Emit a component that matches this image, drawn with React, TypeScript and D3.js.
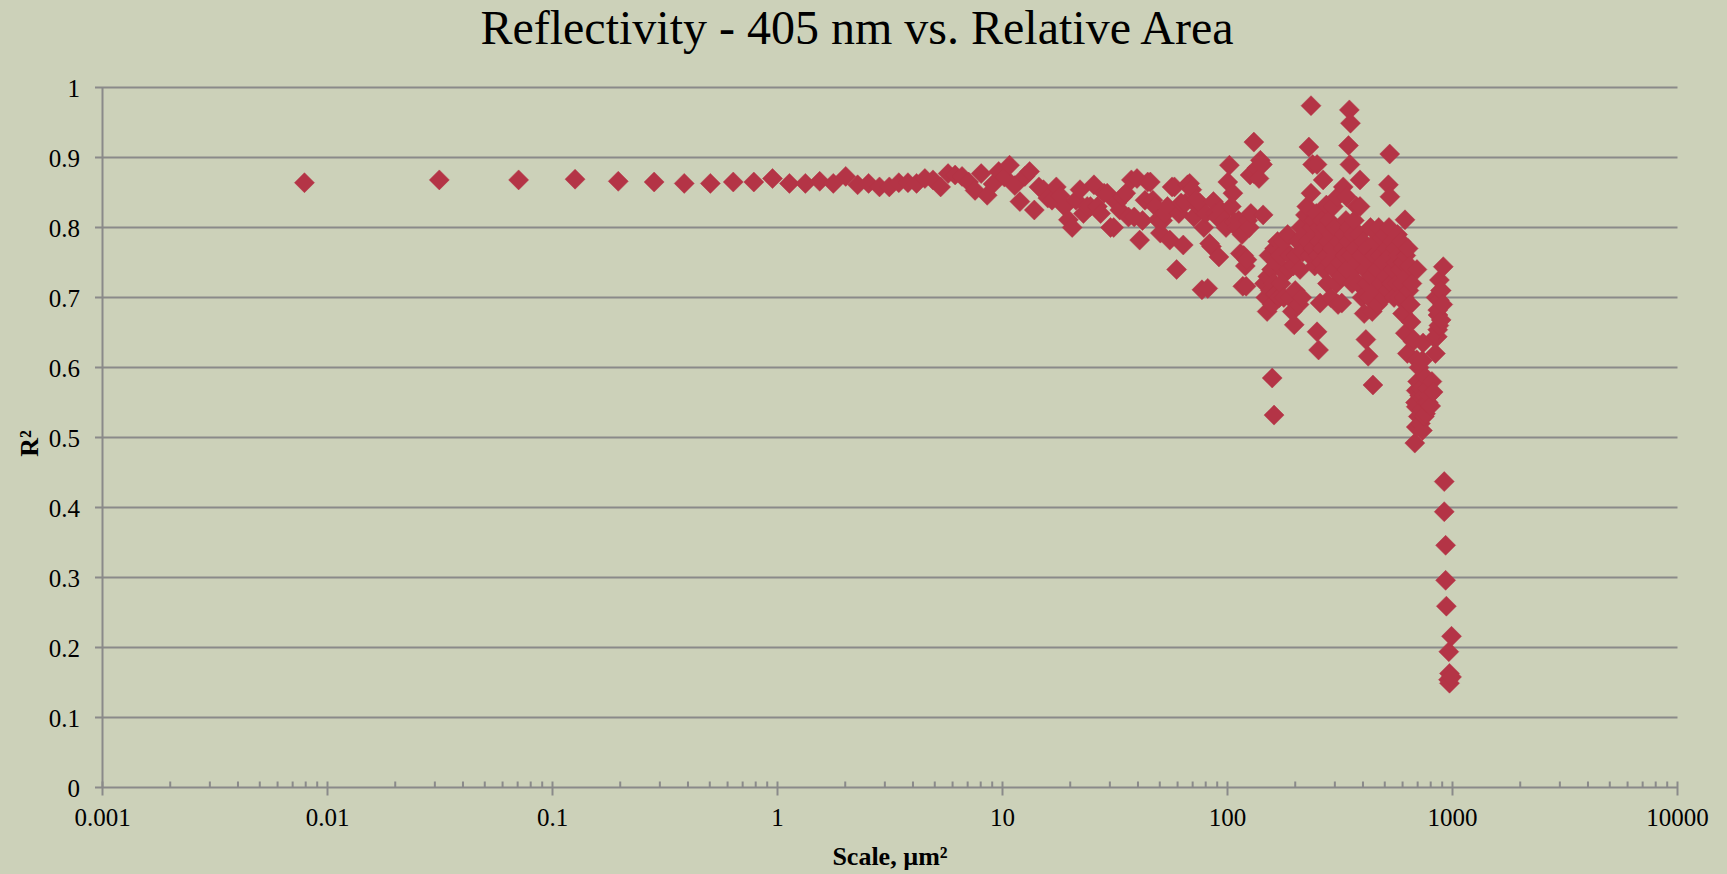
import React from "react";
import * as d3 from "d3";

// Axis ticks
const X_TICKS = [0.001, 0.01, 0.1, 1, 10, 100, 1000, 10000];
const X_TICK_LABELS = ["0.001", "0.01", "0.1", "1", "10", "100", "1000", "10000"];
const Y_TICKS = [0, 0.1, 0.2, 0.3, 0.4, 0.5, 0.6, 0.7, 0.8, 0.9, 1];
const Y_TICK_LABELS = ["0", "0.1", "0.2", "0.3", "0.4", "0.5", "0.6", "0.7", "0.8", "0.9", "1"];

// [scale µm², R²] — sub-10 µm² features
const smallScale: [number, number][] = [
  [0.0079, 0.864], [0.0314, 0.868], [0.0707, 0.868], [0.126, 0.869], [0.196, 0.866],
  [0.283, 0.865], [0.385, 0.863], [0.503, 0.863], [0.636, 0.865], [0.785, 0.865],
  [0.95, 0.87], [1.13, 0.863], [1.33, 0.863], [1.54, 0.866], [1.77, 0.863],
  [2.01, 0.873], [2.27, 0.861], [2.54, 0.863], [2.84, 0.858], [3.14, 0.858],
  [3.46, 0.864], [3.8, 0.864], [4.15, 0.863], [4.52, 0.87], [4.91, 0.868],
  [5.31, 0.858], [5.73, 0.877], [6.16, 0.875], [6.61, 0.873], [7.07, 0.865],
  [7.55, 0.853], [8.04, 0.877], [8.55, 0.846], [9.08, 0.862], [9.62, 0.88],
];

// 10–100 µm²
const midScale: [number, number][] = [
  [10.2, 0.872], [10.75, 0.889], [11.34, 0.86], [11.95, 0.837], [12.57, 0.873],
  [13.2, 0.88], [13.85, 0.825], [14.52, 0.858], [15.2, 0.854], [15.9, 0.842],
  [16.6, 0.839], [17.35, 0.858], [18.1, 0.845], [18.86, 0.83], [19.63, 0.811],
  [20.4, 0.8], [21.2, 0.839], [22.1, 0.854], [22.9, 0.82], [23.8, 0.83],
  [24.6, 0.83], [25.5, 0.861], [26.4, 0.83], [27.3, 0.82], [28.3, 0.849],
  [29.2, 0.849], [30.2, 0.8], [31.2, 0.8], [32.2, 0.835], [33.2, 0.825],
  [34.2, 0.844], [35.3, 0.849], [36.3, 0.815], [37.4, 0.868], [38.5, 0.815],
  [39.6, 0.87], [40.7, 0.782], [41.9, 0.81], [43, 0.839], [44.2, 0.865],
  [45.4, 0.865], [46.6, 0.839], [47.8, 0.83], [49, 0.811], [50.3, 0.792],
  [51.5, 0.81], [52.8, 0.82], [54.1, 0.83], [55.4, 0.782], [56.7, 0.858],
  [58.1, 0.858], [59.4, 0.74], [60.8, 0.82], [62.2, 0.835], [63.6, 0.775],
  [65, 0.835], [66.5, 0.861], [67.9, 0.863], [69.4, 0.854], [70.9, 0.815],
  [72.4, 0.84], [73.9, 0.83], [75.4, 0.835], [77, 0.711], [78.5, 0.8],
  [80.1, 0.82], [81.7, 0.713], [83.3, 0.777], [84.9, 0.773], [86.6, 0.837],
  [88.2, 0.82], [89.9, 0.815], [91.6, 0.758], [93.3, 0.825], [95, 0.82],
  [96.8, 0.81], [98.5, 0.8],
];

// 100–1000 µm²
const largeScale: [number, number][] = [
  [100.3, 0.865], [102, 0.889], [104, 0.83], [105.7, 0.849], [107.5, 0.808],
  [109.4, 0.8], [112, 0.81], [113, 0.8], [114, 0.763], [116, 0.79],
  [117, 0.716], [118, 0.76], [120, 0.745], [121, 0.716], [122, 0.754],
  [123, 0.81], [125, 0.8], [126, 0.875], [127, 0.82], [131, 0.877],
  [131, 0.922], [135, 0.885], [138, 0.87], [140, 0.896], [143, 0.89],
  [144, 0.818], [146, 0.72], [148, 0.7], [150, 0.68], [151, 0.73],
  [153, 0.76], [155, 0.71], [157, 0.74], [158, 0.585], [158, 0.69],
  [160, 0.72], [161, 0.532], [162, 0.77], [163, 0.705], [165, 0.75],
  [167, 0.78], [170, 0.7], [172, 0.76], [173, 0.72],
  [177, 0.78], [178, 0.7], [180, 0.735], [182, 0.765],
  [185, 0.79], [187, 0.74], [189, 0.7], [190, 0.76],
  [194, 0.68], [196, 0.745], [198, 0.661], [200, 0.71],
  [202, 0.76], [206, 0.78], [208, 0.69], [210, 0.74],
  [212, 0.8], [214, 0.7], [216, 0.765], [220, 0.79],
  [222, 0.818], [225, 0.83], [228, 0.78], [230, 0.915], [232, 0.76],
  [235, 0.974], [235, 0.849], [237, 0.8], [239, 0.89], [240, 0.77],
  [242, 0.81], [244, 0.745], [246, 0.79], [248, 0.82], [250, 0.651],
  [250, 0.89], [252, 0.76], [254, 0.625], [255, 0.8], [256, 0.78],
  [258, 0.692], [260, 0.75], [262, 0.81], [264, 0.77], [266, 0.868],
  [268, 0.74], [270, 0.79], [272, 0.8], [275, 0.832], [276, 0.76],
  [278, 0.72], [280, 0.78], [283, 0.81], [285, 0.75], [288, 0.7],
  [290, 0.79], [292, 0.77], [295, 0.83], [297, 0.74], [300, 0.8],
  [302, 0.76], [305, 0.72], [308, 0.844], [310, 0.69], [312, 0.78],
  [315, 0.75], [318, 0.8], [320, 0.73], [322, 0.692], [325, 0.77],
  [327, 0.858], [330, 0.79], [333, 0.76], [336, 0.81], [338, 0.844],
  [340, 0.74], [343, 0.78], [345, 0.917], [347, 0.8], [348, 0.968],
  [350, 0.89], [352, 0.949], [355, 0.76], [358, 0.72], [360, 0.79],
  [363, 0.74], [366, 0.81], [370, 0.77], [375, 0.83], [378, 0.75],
  [382, 0.72], [385, 0.79], [388, 0.868], [388, 0.83], [392, 0.76],
  [396, 0.7], [400, 0.78], [405, 0.677], [408, 0.74], [412, 0.64],
  [416, 0.72], [418, 0.77], [422, 0.616], [425, 0.7], [428, 0.75],
  [432, 0.8], [436, 0.73], [440, 0.68], [443, 0.575], [446, 0.76],
  [450, 0.71], [455, 0.78], [460, 0.74], [465, 0.69], [470, 0.8],
  [475, 0.76], [480, 0.72], [485, 0.785], [490, 0.75], [495, 0.7],
  [500, 0.79], [505, 0.73], [510, 0.77], [515, 0.71], [519, 0.861],
  [522, 0.8], [526, 0.905], [527, 0.844], [530, 0.76], [535, 0.72],
  [540, 0.78], [545, 0.74], [550, 0.7], [555, 0.77], [560, 0.75],
  [565, 0.72], [570, 0.79], [575, 0.76], [580, 0.7], [585, 0.74],
  [590, 0.78], [595, 0.72], [600, 0.677], [605, 0.75], [610, 0.7],
  [615, 0.811], [617, 0.649], [620, 0.76], [625, 0.73], [630, 0.62],
  [635, 0.77], [640, 0.71], [645, 0.745], [650, 0.69], [655, 0.665],
  [660, 0.72], [668, 0.637], [672, 0.64], [680, 0.492], [685, 0.55],
  [690, 0.567], [690, 0.544], [690, 0.515], [693, 0.611], [695, 0.74],
  [700, 0.58], [705, 0.53], [710, 0.6], [715, 0.56], [720, 0.52],
  [725, 0.57], [730, 0.54], [735, 0.61], [735, 0.51], [740, 0.635],
  [745, 0.56], [750, 0.53], [759, 0.586], [759, 0.534], [765, 0.55],
  [770, 0.57], [780, 0.55], [790, 0.56], [800, 0.545], [810, 0.58],
  [820, 0.565], [830, 0.642], [840, 0.62], [845, 0.7], [856, 0.644],
  [860, 0.654], [862, 0.675], [860, 0.682], [870, 0.66], [875, 0.696],
  [875, 0.725], [885, 0.71], [890, 0.668], [890, 0.71], [905, 0.69],
  [910, 0.744], [919, 0.437], [919, 0.394], [932, 0.346], [932, 0.296],
  [939, 0.259], [960, 0.154], [963, 0.194], [970, 0.163], [970, 0.149],
  [990, 0.158], [990, 0.216],
];

const W = 1727;
const H = 874;
const PLOT = { left: 102.5, right: 1677.5, top: 87.5, bottom: 787.5 };
const BG = "#CCD1B9";
const GRID = "#8A8A8A";
const MARK = "#B43446";
const SERIF = "'Liberation Serif', 'Times New Roman', serif";

export default function App() {
  const x = d3.scaleLog().domain([0.001, 10000]).range([PLOT.left, PLOT.right]);
  const y = d3.scaleLinear().domain([0, 1]).range([PLOT.bottom, PLOT.top]);

  const minorTicks = x.ticks().filter((t) => !X_TICKS.some((m) => Math.abs(m - t) / m < 1e-9));
  const points = [...smallScale, ...midScale, ...largeScale];
  const diamond = "M0,-10L10,0L0,10L-10,0Z";

  return (
    <svg
      width={W}
      height={H}
      style={{ position: "absolute", left: 0, top: 0, display: "block" }}
    >
      <rect x={0} y={0} width={W} height={H} fill={BG} />

      <text
        x={857}
        y={43.5}
        textAnchor="middle"
        fontFamily={SERIF}
        fontSize={48}
        fill="#000"
      >
        Reflectivity - 405 nm vs. Relative Area
      </text>

      {/* horizontal gridlines with outward ticks */}
      {Y_TICKS.map((t, i) => (
        <g key={`gy${i}`}>
          <line
            x1={PLOT.left - 7.5}
            x2={PLOT.right}
            y1={y(t)}
            y2={y(t)}
            stroke={GRID}
            strokeWidth={2}
          />
          <text
            x={80}
            y={y(t) + 9.5}
            textAnchor="end"
            fontFamily={SERIF}
            fontSize={25}
            fill="#000"
          >
            {Y_TICK_LABELS[i]}
          </text>
        </g>
      ))}

      {/* vertical axis */}
      <line x1={PLOT.left} x2={PLOT.left} y1={PLOT.top} y2={PLOT.bottom} stroke={GRID} strokeWidth={2} />

      {/* log axis ticks */}
      {minorTicks.map((t, i) => (
        <line
          key={`mn${i}`}
          x1={x(t)}
          x2={x(t)}
          y1={PLOT.bottom - 6}
          y2={PLOT.bottom}
          stroke={GRID}
          strokeWidth={2}
        />
      ))}
      {X_TICKS.map((t, i) => (
        <g key={`mx${i}`}>
          <line
            x1={x(t)}
            x2={x(t)}
            y1={PLOT.bottom - 6}
            y2={PLOT.bottom + 8}
            stroke={GRID}
            strokeWidth={2}
          />
          <text
            x={x(t)}
            y={826}
            textAnchor="middle"
            fontFamily={SERIF}
            fontSize={25}
            fill="#000"
          >
            {X_TICK_LABELS[i]}
          </text>
        </g>
      ))}

      {points.map(([sx, r], i) => (
        <path
          key={`p${i}`}
          d={diamond}
          transform={`translate(${x(sx)},${y(r)})`}
          fill={MARK}
          stroke={MARK}
          strokeWidth={0.5}
        />
      ))}

      <text
        x={(PLOT.left + PLOT.right) / 2}
        y={865}
        textAnchor="middle"
        fontFamily={SERIF}
        fontSize={26}
        fontWeight="bold"
        fill="#000"
      >
        Scale, µm²
      </text>
      <text
        transform={`translate(38,${(PLOT.top + PLOT.bottom) / 2 + 6}) rotate(-90)`}
        textAnchor="middle"
        fontFamily={SERIF}
        fontSize={26}
        fontWeight="bold"
        fill="#000"
      >
        R²
      </text>
    </svg>
  );
}
